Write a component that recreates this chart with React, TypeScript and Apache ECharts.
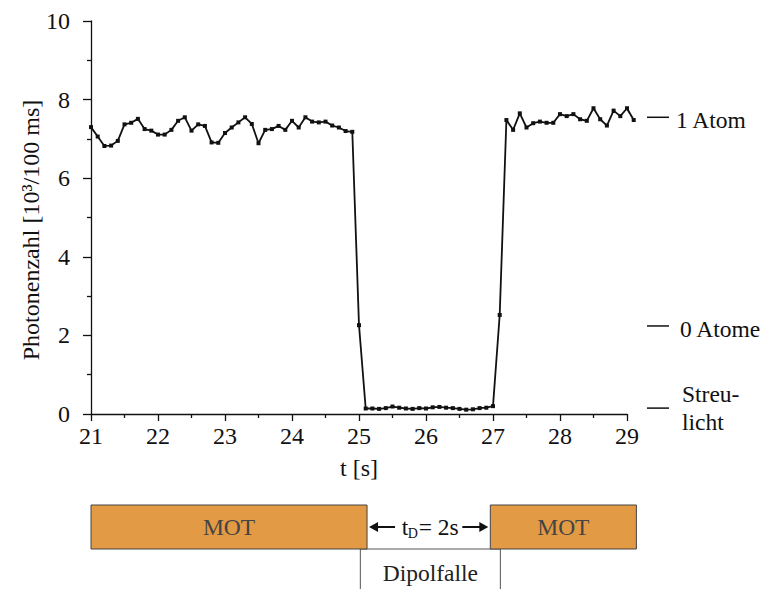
import React, { useEffect, useRef } from "react";
import * as echarts from "echarts";

const times = [
  21.0, 21.1, 21.2, 21.3, 21.4, 21.5, 21.6, 21.7, 21.8, 21.9,
  22.0, 22.1, 22.2, 22.3, 22.4, 22.5, 22.6, 22.7, 22.8, 22.9,
  23.0, 23.1, 23.2, 23.3, 23.4, 23.5, 23.6, 23.7, 23.8, 23.9,
  24.0, 24.1, 24.2, 24.3, 24.4, 24.5, 24.6, 24.7, 24.8, 24.9,
  25.0, 25.1, 25.2, 25.3, 25.4, 25.5, 25.6, 25.7, 25.8, 25.9,
  26.0, 26.1, 26.2, 26.3, 26.4, 26.5, 26.6, 26.7, 26.8, 26.9,
  27.0, 27.1, 27.2, 27.3, 27.4, 27.5, 27.6, 27.7, 27.8, 27.9,
  28.0, 28.1, 28.2, 28.3, 28.4, 28.5, 28.6, 28.7, 28.8, 28.9,
  29.0, 29.1,
];

const photonCounts = [
  7.30, 7.06, 6.82, 6.83, 6.95, 7.37, 7.41, 7.51, 7.25, 7.21,
  7.11, 7.11, 7.23, 7.46, 7.55, 7.21, 7.37, 7.33, 6.91, 6.90,
  7.15, 7.29, 7.42, 7.55, 7.38, 6.89, 7.23, 7.25, 7.33, 7.23,
  7.46, 7.29, 7.55, 7.44, 7.42, 7.44, 7.34, 7.29, 7.20, 7.18,
  2.26, 0.14, 0.14, 0.13, 0.15, 0.19, 0.16, 0.14, 0.13, 0.15,
  0.14, 0.17, 0.18, 0.16, 0.15, 0.13, 0.11, 0.12, 0.15, 0.16,
  0.20, 2.52, 7.48, 7.23, 7.65, 7.29, 7.40, 7.44, 7.41, 7.41,
  7.63, 7.58, 7.63, 7.50, 7.46, 7.78, 7.50, 7.34, 7.72, 7.58,
  7.78, 7.48,
];

const levelValues = [7.55, 2.24, 0.15];
const levelLabels = [["1 Atom"], ["0 Atome"], ["Streu-", "licht"]];

const motPhases = [
  [21.0, 25.12],
  [26.96, 29.14],
];
const dipolPhase = [25.02, 27.11];
const phaseTexts = { mot: "MOT", dipol: "Dipolfalle", tdMain: "t", tdSub: "D", tdRest: "= 2s" };

const FONT = '"Liberation Serif", "Times New Roman", serif';
const INK = "#111";
const FS = 23.5;
const FS_AXIS = 24;

export default function App() {
  const ref = useRef<HTMLDivElement>(null);

  useEffect(() => {
    const chart = echarts.init(ref.current!, null, { renderer: "svg" });
    const axisCommon = {
      axisLine: { show: true, lineStyle: { color: INK, width: 1.3 } },
      splitLine: { show: false },
      axisLabel: { color: INK, fontSize: FS_AXIS, fontFamily: FONT },
    };
    const xMax = 29;
    chart.setOption({
      animation: false,
      backgroundColor: "#fff",
      grid: { left: 91, right: 138, top: 21, bottom: 175, containLabel: false },
      xAxis: {
        type: "value",
        min: 21,
        max: xMax,
        interval: 1,
        ...axisCommon,
        axisTick: { show: true, length: 7, lineStyle: { color: INK, width: 1.3 } },
        minorTick: { show: true, splitNumber: 2, length: 4, lineStyle: { color: INK, width: 1.3 } },
        axisLabel: { ...axisCommon.axisLabel, margin: 10 },
        name: "t [s]",
        nameLocation: "middle",
        nameGap: 42,
        nameTextStyle: { color: INK, fontSize: FS_AXIS, fontFamily: FONT },
      },
      yAxis: {
        type: "value",
        min: 0,
        max: 10,
        interval: 2,
        ...axisCommon,
        axisTick: { show: true, length: 8, lineStyle: { color: INK, width: 1.3 } },
        minorTick: { show: true, splitNumber: 2, length: 4, lineStyle: { color: INK, width: 1.3 } },
        axisLabel: { ...axisCommon.axisLabel, margin: 21 },
      },
      series: [
        {
          type: "line",
          data: times.map((t, i) => [t, photonCounts[i]]),
          symbol: "rect",
          symbolSize: 4,
          showSymbol: true,
          showAllSymbol: true,
          clip: false,
          lineStyle: { color: INK, width: 1.8 },
          itemStyle: { color: INK },
        },
      ],
    });

    const px = (t: number, v: number) =>
      chart.convertToPixel({ gridIndex: 0 }, [t, v]) as number[];

    const gridRight = px(xMax, 0)[0];
    const graphics: any[] = [];

    // segments of the trace beyond the axis end (line series drops them)
    for (let i = 1; i < times.length; i++) {
      if (times[i] > xMax) {
        const a = px(times[i - 1], photonCounts[i - 1]);
        const b = px(times[i], photonCounts[i]);
        graphics.push({
          type: "line",
          shape: { x1: a[0], y1: a[1], x2: b[0], y2: b[1] },
          style: { stroke: INK, lineWidth: 1.8 },
        });
      }
    }

    const txtStyle = (text: string, size: number, align: string, fill = INK) => ({
      text,
      fontSize: size,
      fontFamily: FONT,
      fill,
      align,
      verticalAlign: "middle",
      textAlign: align,
      textVerticalAlign: "middle",
    });

    // y axis title
    graphics.push({
      type: "text",
      x: 31,
      y: 230,
      rotation: Math.PI / 2,
      style: txtStyle("Photonenzahl [10³/100 ms]", FS_AXIS, "center"),
    });

    // level annotations
    levelValues.forEach((v, i) => {
      const y = px(xMax, v)[1];
      graphics.push({
        type: "line",
        shape: { x1: gridRight + 20, y1: y, x2: gridRight + 42, y2: y },
        style: { stroke: INK, lineWidth: 1.5 },
      });
      const lines = levelLabels[i];
      if (lines.length === 1) {
        graphics.push({
          type: "text",
          x: gridRight + 49 + (i === 1 ? 4 : 0),
          y: y + 3,
          style: txtStyle(lines[0], FS, "left"),
        });
      } else {
        lines.forEach((s, j) => {
          graphics.push({
            type: "text",
            x: gridRight + 55,
            y: y - 14 + j * 28,
            style: txtStyle(s, FS, "left"),
          });
        });
      }
    });

    // phase boxes below
    const boxTop = 505;
    const boxBottom = 549;
    const dx0 = px(dipolPhase[0], 0)[0];
    const dx1 = px(dipolPhase[1], 0)[0];
    graphics.push({
      type: "rect",
      shape: { x: dx0, y: boxBottom, width: dx1 - dx0, height: 60 },
      style: { fill: "#fff", stroke: "#555", lineWidth: 1 },
    });
    graphics.push({
      type: "text",
      x: (dx0 + dx1) / 2,
      y: 573,
      style: txtStyle(phaseTexts.dipol, FS, "center", "#222"),
    });
    const motEdges: number[][] = [];
    motPhases.forEach(([a, b]) => {
      const x0 = px(a, 0)[0];
      const x1 = px(b, 0)[0];
      motEdges.push([x0, x1]);
      graphics.push({
        type: "rect",
        shape: { x: x0, y: boxTop, width: x1 - x0, height: boxBottom - boxTop },
        style: { fill: "#E39A45", stroke: "#444", lineWidth: 1 },
      });
      graphics.push({
        type: "text",
        x: (x0 + x1) / 2,
        y: (boxTop + boxBottom) / 2,
        style: txtStyle(phaseTexts.mot, FS, "center", "#444"),
      });
    });

    // arrows and t_D label
    const midY = (boxTop + boxBottom) / 2;
    const leftTip = motEdges[0][1] + 2;
    const rightTip = motEdges[1][0] - 2;
    graphics.push({
      type: "line",
      shape: { x1: leftTip + 6, y1: midY, x2: leftTip + 26, y2: midY },
      style: { stroke: INK, lineWidth: 2 },
    });
    graphics.push({
      type: "polygon",
      shape: { points: [[leftTip, midY], [leftTip + 9, midY - 5], [leftTip + 9, midY + 5]] },
      style: { fill: INK },
    });
    graphics.push({
      type: "line",
      shape: { x1: rightTip - 26, y1: midY, x2: rightTip - 6, y2: midY },
      style: { stroke: INK, lineWidth: 2 },
    });
    graphics.push({
      type: "polygon",
      shape: { points: [[rightTip, midY], [rightTip - 9, midY - 5], [rightTip - 9, midY + 5]] },
      style: { fill: INK },
    });
    const tdX = (leftTip + rightTip) / 2 - 27;
    graphics.push({ type: "text", x: tdX, y: midY, style: txtStyle(phaseTexts.tdMain, FS, "left") });
    graphics.push({ type: "text", x: tdX + 6, y: midY + 6, style: txtStyle(phaseTexts.tdSub, 14, "left") });
    graphics.push({ type: "text", x: tdX + 17, y: midY, style: txtStyle(phaseTexts.tdRest, FS, "left") });

    chart.setOption({ graphic: graphics });

    return () => chart.dispose();
  }, []);

  return (
    <div
      ref={ref}
      style={{ position: "fixed", left: 0, top: 0, width: 765, height: 589 }}
    />
  );
}
